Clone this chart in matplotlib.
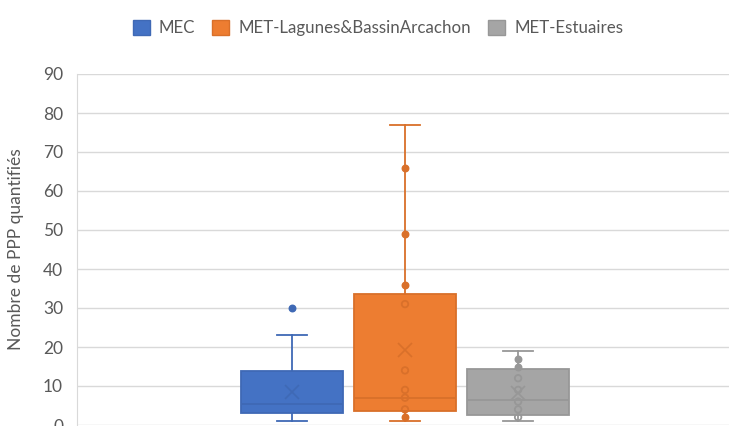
import matplotlib
matplotlib.use("Agg")
import matplotlib.pyplot as plt
from matplotlib.patches import Patch

plt.rcParams['font.family'] = ['Lato', 'DejaVu Sans']

series = ["MEC", "MET-Lagunes&BassinArcachon", "MET-Estuaires"]
face_colors = ["#4472C4", "#ED7D31", "#A5A5A5"]
edge_colors = ["#3F69B5", "#D9702A", "#979797"]

q1 = [3, 3.5, 2.5]
medians = [5.5, 7, 6.5]
q3 = [13.8, 33.5, 14.3]
whis_lo = [1, 1, 1]
whis_hi = [23, 77, 19]
means = [8.5, 19.3, 8.3]
inner_points = [[], [31, 14, 9, 7, 4], [12, 9, 6, 4, 2]]
filled_points = [[30], [66, 49, 36, 2], [17, 15]]

y_ticks = [0, 10, 20, 30, 40, 50, 60, 70, 80, 90]
ylabel = "Nombre de PPP quantifiés"

W, H = 729, 426
fig = plt.figure(figsize=(W / 100, H / 100), dpi=100)
ax = fig.add_axes([77 / W, 1 / H, (733 - 77) / W, 351 / H])

positions = [-1, 0, 1]
for i in range(3):
    stats = [dict(med=medians[i], q1=q1[i], q3=q3[i], whislo=whis_lo[i],
                  whishi=whis_hi[i], mean=means[i], fliers=[])]
    ax.bxp(stats, positions=[positions[i]], widths=0.9, patch_artist=True,
           showmeans=True, showfliers=False,
           boxprops=dict(facecolor=face_colors[i], edgecolor=edge_colors[i], linewidth=1.3),
           medianprops=dict(color=edge_colors[i], linewidth=1.3),
           whiskerprops=dict(color=edge_colors[i], linewidth=1.3),
           capprops=dict(color=edge_colors[i], linewidth=1.3),
           capwidths=0.27,
           meanprops=dict(marker='x', markeredgecolor=edge_colors[i],
                          markersize=10, markeredgewidth=1.2),
           zorder=3)
    if inner_points[i]:
        ax.scatter([positions[i]] * len(inner_points[i]), inner_points[i], s=22,
                   facecolor='none', edgecolor=edge_colors[i], linewidths=1.3, zorder=4)
    if filled_points[i]:
        ax.scatter([positions[i]] * len(filled_points[i]), filled_points[i], s=22,
                   facecolor=edge_colors[i], edgecolor=edge_colors[i], linewidths=1.0, zorder=4)

ax.set_xlim(-2.9, 2.9)
ax.set_ylim(0, 90)
ax.set_yticks(y_ticks)
ax.set_xticks([])
ax.yaxis.grid(True, color="#D9D9D9", linewidth=1.0, zorder=0)
ax.set_axisbelow(True)
for s in ["top", "right", "bottom"]:
    ax.spines[s].set_visible(False)
ax.spines["left"].set_color("#D9D9D9")
ax.tick_params(axis='y', length=0, labelsize=12.5, labelcolor="#595959", pad=10)
ax.set_ylabel(ylabel, fontsize=12.5, color="#595959", va="center")
ax.yaxis.set_label_coords(-(77 - 16) / 656, 0.5)

handles = [Patch(facecolor=face_colors[i], edgecolor=edge_colors[i], label=series[i]) for i in range(3)]
fig.legend(handles=handles, loc="center", bbox_to_anchor=(378 / W, 1 - 28 / H), ncol=3,
           frameon=False, fontsize=12.2, labelcolor="#595959", handlelength=1.0,
           handleheight=1.0, columnspacing=1.0, handletextpad=0.55)

fig.savefig("out.png", dpi=100)
